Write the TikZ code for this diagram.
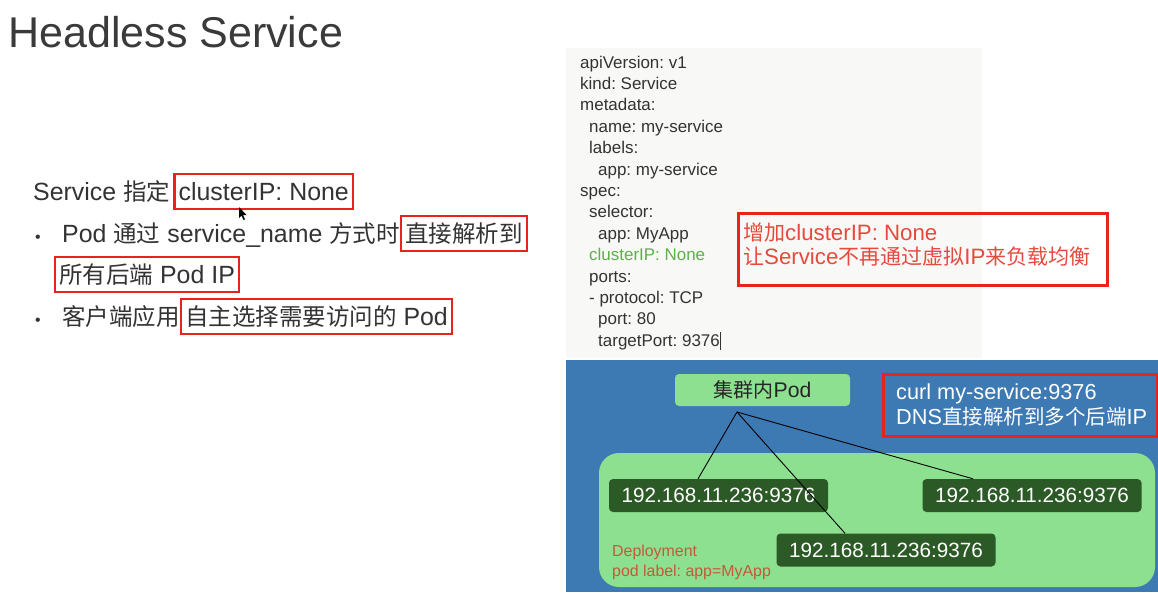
\documentclass[tikz,border=0pt]{standalone}
\usepackage{fontspec}
\setmainfont{Liberation Sans}[Scale=1.06]
\newfontfamily\zhfont{Noto Sans CJK SC}
\newcommand\zh[1]{{\zhfont #1}}
\newcommand\fs[1]{\fontsize{#1}{#1}\selectfont}
\frenchspacing

\definecolor{inkgray}{HTML}{333333}
\definecolor{titlegray}{HTML}{3A3A3A}
\definecolor{hlred}{HTML}{E8231C}
\definecolor{notered}{HTML}{E64A3C}
\definecolor{codebg}{HTML}{F8F8F6}
\definecolor{codegreen}{HTML}{5DB04A}
\definecolor{bluebg}{HTML}{3D79B3}
\definecolor{lightgreen}{HTML}{8DE08F}
\definecolor{darkgreen}{HTML}{2C5A26}
\definecolor{deplabel}{HTML}{C4593B}

\tikzset{
  txt/.style={inner sep=0, anchor=base west, text=inkgray, font=\fs{23.5}},
  hl/.style={draw=hlred, line width=2.4pt, inner xsep=4pt, inner ysep=3pt,
    text height=23pt, text depth=6pt, anchor=base west, text=inkgray, font=\fs{23.5}},
  code/.style={inner sep=0, anchor=base west, text=inkgray, font=\fs{16}},
  notebox/.style={draw=hlred, line width=2.6pt, anchor=north west},
  podbox/.style={fill=lightgreen, rounded corners=4pt, text=black!85, font=\fs{20},
    minimum width=175pt, minimum height=32pt, inner sep=0},
  ipbox/.style={fill=darkgreen, rounded corners=4pt, text=white, font=\fs{19.5},
    minimum width=219pt, minimum height=33pt, inner sep=0},
  link/.style={draw=black, line width=0.9pt},
}

\begin{document}
\begin{tikzpicture}[x=1pt, y=-1pt]
\useasboundingbox (0,0) rectangle (1158,592);
\fill[white] (0,0) rectangle (1158,592);

% title
\node[inner sep=0, anchor=base west, text=titlegray, font=\fs{40.6}] (title) at (8,47) {Headless Service};

% left-hand explanation
\node[txt] (l1a) at (33,200) {Service \zh{指定}};
\node[hl] (l1b) at ([xshift=3pt]l1a.base east) {clusterIP: None};

\node[txt, font=\fs{15}] (b1) at (35,242) {•};
\node[txt] (l2a) at (62,242) {Pod \zh{通过} service\_name \zh{方式时}};
\node[hl] (l2b) at (l2a.base east) {\zh{直接解析到}};
\node[hl] (l3) at (54,283) {\zh{所有后端} Pod IP};

\node[txt, font=\fs{15}] (b2) at (35,325) {•};
\node[txt] (l4a) at (62,325) {\zh{客户端应用}};
\node[hl] (l4b) at (l4a.base east) {\zh{自主选择需要访问的} Pod};

% mouse pointer
\fill[black] (239,207) -- (239,218) -- (241.5,215.5) -- (243.5,220) -- (245,219.3) -- (243,215) -- (246.5,215) -- cycle;

% service manifest
\fill[codebg] (566,48) rectangle (982,358);
\node[code] (c1)  at (580,68)    {apiVersion: v1};
\node[code] (c2)  at (580,89.4)  {kind: Service};
\node[code] (c3)  at (580,110.8) {metadata:};
\node[code] (c4)  at (589,132.2) {name: my-service};
\node[code] (c5)  at (589,153.6) {labels:};
\node[code] (c6)  at (598,175)   {app: my-service};
\node[code] (c7)  at (580,196.4) {spec:};
\node[code] (c8)  at (589,217.8) {selector:};
\node[code] (c9)  at (598,239.2) {app: MyApp};
\node[code, text=codegreen] (c10) at (589,260.6) {clusterIP: None};
\node[code] (c11) at (589,282)   {ports:};
\node[code] (c12) at (589,303.4) {- protocol: TCP};
\node[code] (c13) at (598,324.8) {port: 80};
\node[code] (c14) at (598,346.2) {targetPort: 9376\rule[-4pt]{0.9pt}{18pt}};

% note on clusterIP
\node[notebox, minimum width=369pt, minimum height=72pt] (note) at (737,212) {};
\node[inner sep=0, anchor=base west, text=notered, font=\fs{21}] (n1) at (743,240) {\zh{增加}clusterIP: None};
\node[inner sep=0, anchor=base west, text=notered, font=\fs{21}] (n2) at (743,264) {\zh{让}Service\zh{不再通过虚拟}IP\zh{来负载均衡}};

% cluster scene
\fill[bluebg] (566,360) rectangle (1158,592);
\node[podbox] (client) at (762.5,390) {\zh{集群内}Pod};

\node[notebox, minimum width=274pt, minimum height=62pt] (dnsnote) at (882,373) {};
\node[inner sep=0, anchor=base west, text=white, font=\fs{20.5}] (d1) at (896,399) {curl my-service:9376};
\node[inner sep=0, anchor=base west, text=white, font=\fs{20.5}] (d2) at (896,424) {DNS\zh{直接解析到多个后端}IP};

\fill[lightgreen, rounded corners=20pt] (599,453) rectangle (1155,587);

\node[ipbox] (podA) at (718.5,495.5) {192.168.11.236:9376};
\node[ipbox] (podC) at (1032,495.5) {192.168.11.236:9376};
\node[ipbox] (podB) at (886,550)    {192.168.11.236:9376};

\node[inner sep=0, anchor=base west, text=deplabel, font=\fs{15}] (dep1) at (612,556) {Deployment};
\node[inner sep=0, anchor=base west, text=deplabel, font=\fs{15}] (dep2) at (612,576) {pod label: app=MyApp};

\coordinate (hub) at (737,412);
\draw[link] (hub) -- ([xshift=-20.5pt]podA.north);
\draw[link] (hub) -- ([xshift=-41pt]podB.north);
\draw[link] (hub) -- ([xshift=-59pt]podC.north);
\end{tikzpicture}
\end{document}
